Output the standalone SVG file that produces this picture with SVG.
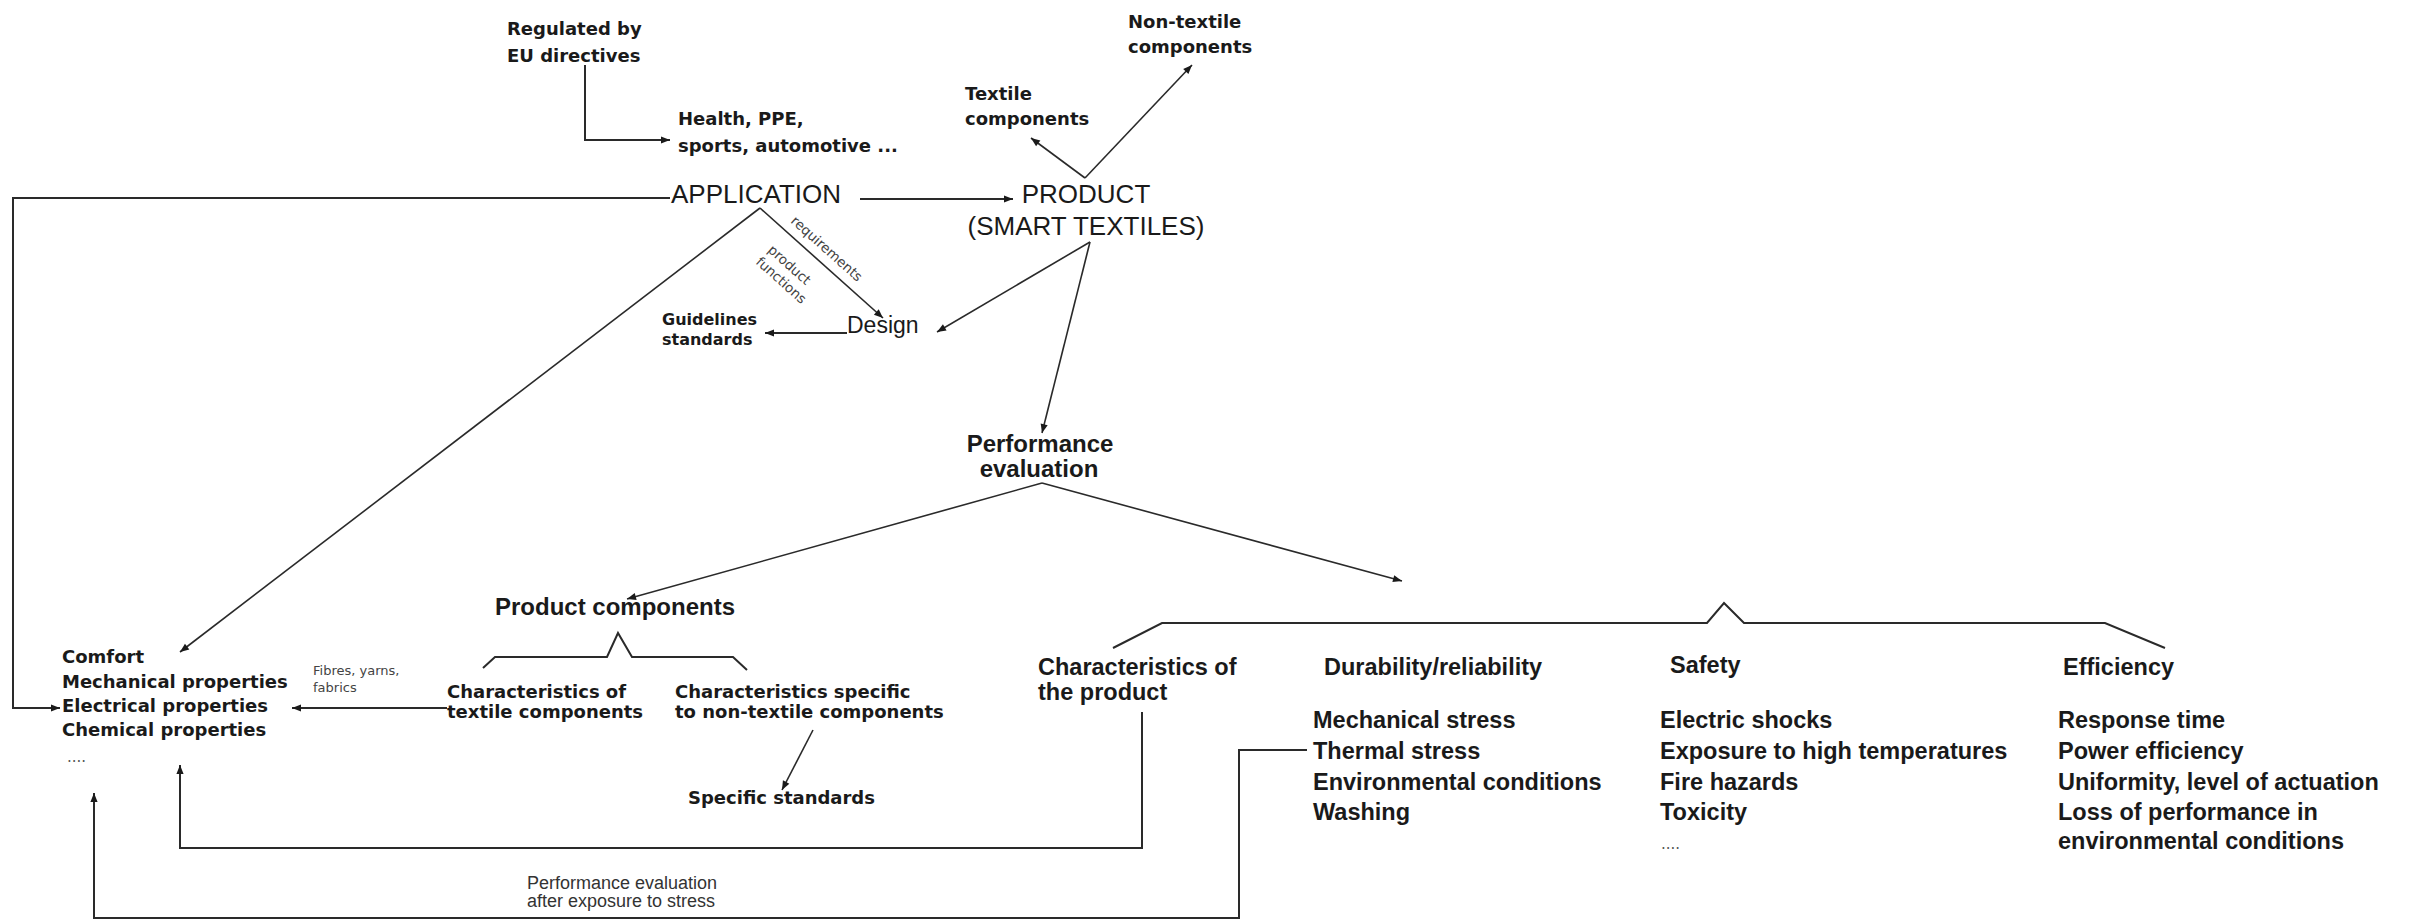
<svg xmlns="http://www.w3.org/2000/svg" width="2414" height="922" viewBox="0 0 2414 922">
  <style>
    .bg { fill: #ffffff; }
    .ln { fill: none; stroke: #2a2a2a; stroke-width: 2; stroke-linejoin: miter; }
    .thin { stroke-width: 1.6; }
    .big { font-family: "Liberation Sans", Arial, sans-serif; font-size: 26px; fill: #1a1a1a; }
    .mid { font-family: "Liberation Sans", Arial, sans-serif; font-size: 23px; fill: #1a1a1a; }
    .hb { font-family: "Liberation Sans", Arial, sans-serif; font-size: 24px; font-weight: bold; fill: #1a1a1a; }
    .rb { font-family: "Liberation Sans", Arial, sans-serif; font-size: 23.5px; font-weight: bold; fill: #1a1a1a; }
    .vb { font-family: "DejaVu Sans", Verdana, sans-serif; font-size: 18px; font-weight: bold; fill: #1a1a1a; }
    .top { font-family: "DejaVu Sans", Verdana, sans-serif; font-size: 18px; font-weight: bold; fill: #1a1a1a; }
    .sm { font-family: "DejaVu Sans", Verdana, sans-serif; font-size: 13.5px; fill: #444444; }
    .note { font-family: "Liberation Sans", Arial, sans-serif; font-size: 18px; fill: #333333; }
    .dots { font-family: "DejaVu Sans", Verdana, sans-serif; font-size: 15px; fill: #555555; }
  </style>
  <defs>
    <marker id="ah" viewBox="0 0 10 10" refX="10" refY="5" markerWidth="12" markerHeight="9" markerUnits="userSpaceOnUse" orient="auto">
      <path d="M0,1 L10,5 L0,9 z" fill="#1a1a1a"/>
    </marker>
  </defs>

  <rect class="bg" x="0" y="0" width="2414" height="922"/>

  <!-- connectors -->
  <g id="connectors">
    <path class="ln" d="M585,65 V140 H670" marker-end="url(#ah)"/>
    <path class="ln" d="M670,198 H13 V708 H60" marker-end="url(#ah)"/>
    <path class="ln" d="M860,199 H1013" marker-end="url(#ah)"/>
    <path class="ln thin" d="M1085,178 L1031,138" marker-end="url(#ah)"/>
    <path class="ln thin" d="M1085,178 L1192,65" marker-end="url(#ah)"/>
    <path class="ln thin" d="M760,208 L883,318" marker-end="url(#ah)"/>
    <path class="ln thin" d="M760,208 L180,652" marker-end="url(#ah)"/>
    <path class="ln" d="M847,333 H765" marker-end="url(#ah)"/>
    <path class="ln thin" d="M1090,242 L937,332" marker-end="url(#ah)"/>
    <path class="ln thin" d="M1090,242 L1042,433" marker-end="url(#ah)"/>
    <path class="ln thin" d="M1042,483 L627,599" marker-end="url(#ah)"/>
    <path class="ln thin" d="M1042,483 L1402,581" marker-end="url(#ah)"/>
    <path class="ln" d="M483,668 L495,657 H607 L618,633 L632,657 H733 L747,670"/>
    <path class="ln" d="M447,708 H292" marker-end="url(#ah)"/>
    <path class="ln thin" d="M813,730 L782,790" marker-end="url(#ah)"/>
    <path class="ln" d="M1113,648 L1162,623 H1707 L1724,603 L1744,623 H2105 L2165,648"/>
    <path class="ln" d="M1142,712 V848 H180 V765" marker-end="url(#ah)"/>
    <path class="ln" d="M1307,750 H1239 V918 H94 V793" marker-end="url(#ah)"/>
  </g>

  <!-- edge labels -->
  <g id="edge-labels">
    <text class="sm" transform="translate(790,222) rotate(41.8)">requirements</text>
    <text class="sm" transform="translate(767,251) rotate(41.8)">product</text>
    <text class="sm" transform="translate(755,263) rotate(41.8)">functions</text>
    <text class="sm" x="313" y="675" style="font-size:13px">Fibres, yarns,</text>
    <text class="sm" x="313" y="692" style="font-size:13px">fabrics</text>
    <text class="note" x="527" y="889">Performance evaluation</text>
    <text class="note" x="527" y="907">after exposure to stress</text>
  </g>

  <!-- nodes -->
  <g id="regulated">
    <text class="top" x="507" y="35">Regulated by</text>
    <text class="top" x="507" y="62">EU directives</text>
  </g>
  <g id="fields">
    <text class="top" x="678" y="125">Health, PPE,</text>
    <text class="top" x="678" y="152">sports, automotive ...</text>
  </g>
  <g id="textile-components">
    <text class="vb" x="965" y="100">Textile</text>
    <text class="vb" x="965" y="125">components</text>
  </g>
  <g id="non-textile-components">
    <text class="vb" x="1128" y="28">Non-textile</text>
    <text class="vb" x="1128" y="53">components</text>
  </g>
  <g id="application">
    <text class="big" x="756" y="203" text-anchor="middle">APPLICATION</text>
  </g>
  <g id="product">
    <text class="big" x="1086" y="203" text-anchor="middle">PRODUCT</text>
    <text class="big" x="1086" y="235" text-anchor="middle">(SMART TEXTILES)</text>
  </g>
  <g id="design">
    <text class="mid" x="847" y="333">Design</text>
  </g>
  <g id="guidelines">
    <text class="vb" x="662" y="325" style="font-size:16px">Guidelines</text>
    <text class="vb" x="662" y="345" style="font-size:16px">standards</text>
  </g>
  <g id="performance-evaluation">
    <text class="hb" x="1040" y="452" text-anchor="middle">Performance</text>
    <text class="hb" x="1039" y="477" text-anchor="middle">evaluation</text>
  </g>
  <g id="product-components">
    <text class="hb" x="495" y="615">Product components</text>
  </g>
  <g id="char-textile">
    <text class="vb" x="447" y="698">Characteristics of</text>
    <text class="vb" x="447" y="718">textile components</text>
  </g>
  <g id="char-non-textile">
    <text class="vb" x="675" y="698">Characteristics specific</text>
    <text class="vb" x="675" y="718">to non-textile components</text>
  </g>
  <g id="specific-standards">
    <text class="vb" x="688" y="804">Specific standards</text>
  </g>
  <g id="properties">
    <text class="vb" x="62" y="663">Comfort</text>
    <text class="vb" x="62" y="688">Mechanical properties</text>
    <text class="vb" x="62" y="712">Electrical properties</text>
    <text class="vb" x="62" y="736">Chemical properties</text>
    <text class="dots" x="67" y="762">....</text>
  </g>
  <g id="char-product">
    <text class="rb" x="1038" y="675">Characteristics of</text>
    <text class="rb" x="1038" y="700">the product</text>
  </g>
  <g id="durability">
    <text class="rb" x="1324" y="675">Durability/reliability</text>
    <text class="rb" x="1313" y="728">Mechanical stress</text>
    <text class="rb" x="1313" y="759">Thermal stress</text>
    <text class="rb" x="1313" y="790">Environmental conditions</text>
    <text class="rb" x="1313" y="820">Washing</text>
  </g>
  <g id="safety">
    <text class="rb" x="1670" y="673">Safety</text>
    <text class="rb" x="1660" y="728">Electric shocks</text>
    <text class="rb" x="1660" y="759">Exposure to high temperatures</text>
    <text class="rb" x="1660" y="790">Fire hazards</text>
    <text class="rb" x="1660" y="820">Toxicity</text>
    <text class="dots" x="1661" y="849">....</text>
  </g>
  <g id="efficiency">
    <text class="rb" x="2063" y="675">Efficiency</text>
    <text class="rb" x="2058" y="728">Response time</text>
    <text class="rb" x="2058" y="759">Power efficiency</text>
    <text class="rb" x="2058" y="790">Uniformity, level of actuation</text>
    <text class="rb" x="2058" y="820">Loss of performance in</text>
    <text class="rb" x="2058" y="849">environmental conditions</text>
  </g>
</svg>
